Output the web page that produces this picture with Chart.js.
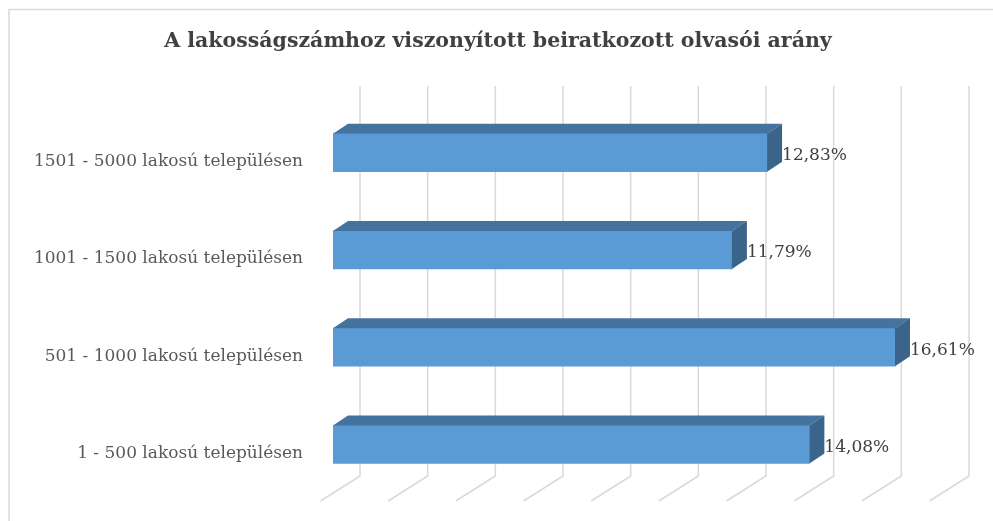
<!DOCTYPE html>
<html>
<head>
<meta charset="utf-8">
<script src="https://cdn.jsdelivr.net/npm/chart.js@4"></script>
<style>
  html, body { margin: 0; padding: 0; background: #fff; }
  #wrap { width: 993px; height: 521px; }
</style>
</head>
<body>
<div id="wrap"><canvas id="grafico"></canvas></div>
<script>
const cimke = [
  '1501 - 5000 lakosú településen',
  '1001 - 1500 lakosú településen',
  '501 - 1000 lakosú településen',
  '1 - 500 lakosú településen'
];
const arany = [12.83, 11.79, 16.61, 14.08];
const cim = 'A lakosságszámhoz viszonyított beiratkozott olvasói arány';
const tengelyMax = 18;
const racsLepes = 2;

// 3D hatas: melyseg eltolas
const melyX = 15, melyY = 10;

const keret = {
  id: 'keret',
  afterLayout(chart) {
    // a cim a teljes keret kozepere keruljon
    chart.titleBlock.left = 8;
    chart.titleBlock.right = 988;
  },
  beforeDraw(chart) {
    const ctx = chart.ctx;
    ctx.save();
    ctx.fillStyle = '#fff';
    ctx.fillRect(0, 0, chart.width, chart.height);
    ctx.strokeStyle = '#d9d9d9';
    ctx.lineWidth = 1.5;
    ctx.strokeRect(9, 9.5, chart.width + 20, chart.height + 20);
    ctx.restore();
  }
};

const racs = {
  id: 'racs',
  beforeDatasetsDraw(chart) {
    const ctx = chart.ctx;
    const xs = chart.scales.x;
    const a = chart.chartArea;
    ctx.save();
    ctx.strokeStyle = '#d9d9d9';
    ctx.lineWidth = 1.5;
    for (let v = 0; v <= tengelyMax; v += racsLepes) {
      const px = xs.getPixelForValue(v);
      ctx.beginPath();
      ctx.moveTo(px + 27, a.top - 18);
      ctx.lineTo(px + 27, a.bottom - 17);
      ctx.lineTo(px - 12.5, a.bottom + 8);
      ctx.stroke();
    }
    ctx.restore();
  }
};

const oszlop3d = {
  id: 'oszlop3d',
  afterDatasetsDraw(chart) {
    const ctx = chart.ctx;
    const meta = chart.getDatasetMeta(0);
    ctx.save();
    meta.data.forEach((bar, i) => {
      const p = bar.getProps(['x', 'y', 'base', 'height'], true);
      const left = p.base, right = p.x;
      const top = p.y - p.height / 2, bottom = p.y + p.height / 2;
      // teteje
      ctx.fillStyle = '#44739f';
      ctx.beginPath();
      ctx.moveTo(left, top);
      ctx.lineTo(left + melyX, top - melyY);
      ctx.lineTo(right + melyX, top - melyY);
      ctx.lineTo(right, top);
      ctx.closePath();
      ctx.fill();
      // oldala
      ctx.fillStyle = '#3a6489';
      ctx.beginPath();
      ctx.moveTo(right, top);
      ctx.lineTo(right + melyX, top - melyY);
      ctx.lineTo(right + melyX, bottom - melyY);
      ctx.lineTo(right, bottom);
      ctx.closePath();
      ctx.fill();
      // ertek
      ctx.fillStyle = '#404040';
      ctx.font = '17px "DejaVu Serif"';
      ctx.textAlign = 'left';
      ctx.textBaseline = 'middle';
      ctx.fillText(arany[i].toFixed(2).replace('.', ',') + '%', right + melyX, p.y + 3);
    });
    ctx.restore();
  }
};

new Chart(document.getElementById('grafico'), {
  type: 'bar',
  data: {
    labels: cimke,
    datasets: [{
      data: arany,
      backgroundColor: '#5b9bd5',
      borderWidth: 0,
      barThickness: 38
    }]
  },
  options: {
    indexAxis: 'y',
    responsive: true,
    maintainAspectRatio: false,
    animation: false,
    layout: { padding: { left: 8, right: 51, top: 0, bottom: 28 } },
    plugins: {
      legend: { display: false },
      tooltip: { enabled: false },
      title: {
        display: true,
        text: cim,
        color: '#404040',
        font: { family: '"DejaVu Serif"', size: 20.5, weight: 'bold', lineHeight: 1.2 },
        padding: { top: 29.7, bottom: 49.7 }
      }
    },
    scales: {
      x: { min: 0, max: tengelyMax, display: false },
      y: {
        grid: { display: false, drawTicks: false },
        border: { display: false },
        afterFit(s) {
          s.width = 325;
          s.paddingTop = 0;
          s.paddingBottom = 0;
        },
        ticks: {
          color: '#595959',
          padding: 30,
          labelOffset: 9,
          font: { family: '"DejaVu Serif"', size: 17 }
        }
      }
    }
  },
  plugins: [keret, racs, oszlop3d]
});
</script>
</body>
</html>
